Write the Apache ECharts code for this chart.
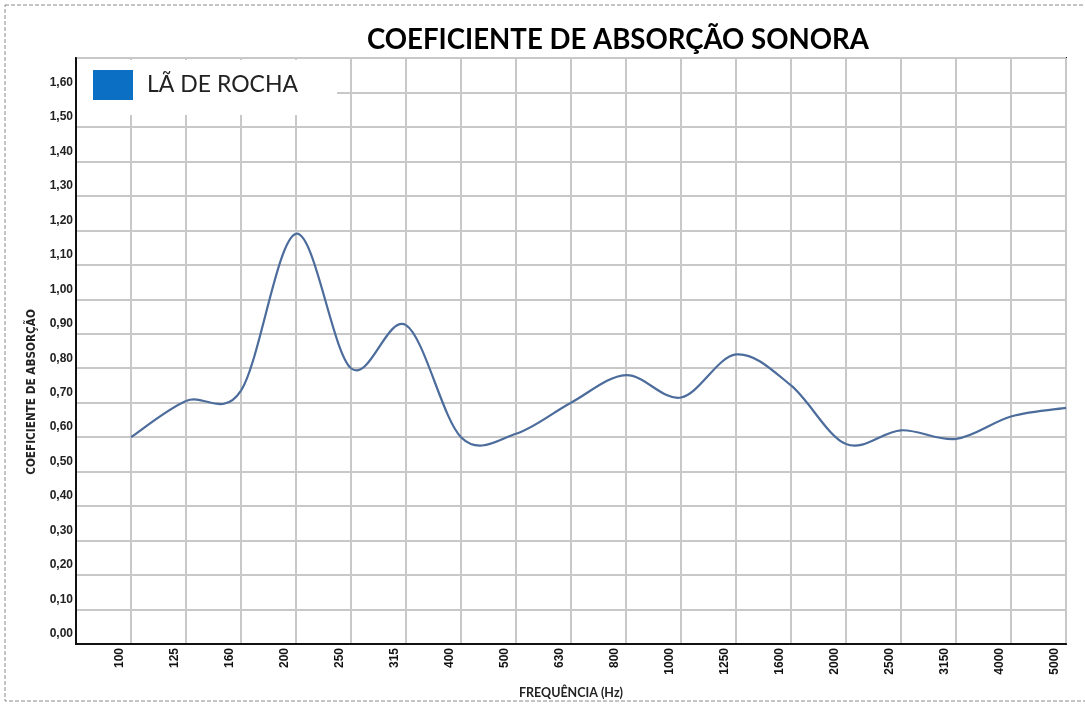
<!DOCTYPE html>
<html>
<head>
<meta charset="utf-8">
<script src="https://cdn.jsdelivr.net/npm/echarts@6/dist/echarts.min.js"></script>
<style>
html,body{margin:0;padding:0;background:#fff;}
#chart{width:1085px;height:704px;}
</style>
</head>
<body>
<div id="chart"></div>
<script>
const titleText = 'COEFICIENTE DE ABSORÇÃO SONORA';
const seriesName = 'LÃ DE ROCHA';
const xAxisTitle = 'FREQUÊNCIA (Hz)';
const yAxisTitle = 'COEFICIENTE DE ABSORÇÃO';
const frequencies = ['100','125','160','200','250','315','400','500','630','800','1000','1250','1600','2000','2500','3150','4000','5000'];
const absorption = [0.60, 0.705, 0.735, 1.19, 0.80, 0.925, 0.60, 0.61, 0.70, 0.78, 0.715, 0.84, 0.75, 0.58, 0.62, 0.595, 0.66, 0.685];
const yTickMax = 1.6;

const chart = echarts.init(document.getElementById('chart'), null, {renderer: 'canvas'});
const lineData = absorption.map((v, i) => [i, v]);
const LINE_COLOR = '#4C6C9C';

// Smoothed line (spreadsheet-style cardinal spline) drawn through the library's own coordinate system
function renderSmoothSegment(params, api) {
  const i = params.dataIndex;
  const n = absorption.length;
  if (i >= n - 1) return null;
  const P = k => {
    const j = Math.min(Math.max(k, 0), n - 1);
    return api.coord([j, absorption[j]]);
  };
  const p0 = P(i - 1), p1 = P(i), p2 = P(i + 1), p3 = P(i + 2);
  return {
    type: 'bezierCurve',
    shape: {
      x1: p1[0], y1: p1[1], x2: p2[0], y2: p2[1],
      cpx1: p1[0] + (p2[0] - p0[0]) / 6, cpy1: p1[1] + (p2[1] - p0[1]) / 6,
      cpx2: p2[0] - (p3[0] - p1[0]) / 6, cpy2: p2[1] - (p3[1] - p1[1]) / 6
    },
    style: {fill: null, stroke: LINE_COLOR, lineWidth: 2.2}
  };
}

const option = {
  backgroundColor: '#fff',
  animation: false,
  title: {
    text: titleText,
    left: 362,
    top: 21,
    textStyle: {fontFamily: 'Lato, "Open Sans", sans-serif', fontWeight: 'bold', fontSize: 27.6, color: '#000'}
  },
  graphic: [{
    type: 'rect',
    shape: {x: 5, y: 5, width: 1090, height: 696},
    style: {fill: 'none', stroke: '#8a8a8a', lineWidth: 1, lineDash: [4, 2]},
    silent: true
  }, {
    type: 'text',
    x: 32, y: 392,
    rotation: Math.PI / 2,
    style: {
      text: yAxisTitle,
      textAlign: 'center', textVerticalAlign: 'middle',
      font: 'bold 11.7px "Liberation Sans Narrow", "DejaVu Sans Condensed", sans-serif',
      fill: '#222'
    },
    silent: true
  }],
  legend: {
    left: 77,
    top: 60,
    backgroundColor: '#fff',
    padding: [10, 39, 15, 16],
    itemWidth: 40,
    itemHeight: 30,
    data: [{name: seriesName, icon: 'rect', itemStyle: {color: '#0B6FC4'}}],
    textStyle: {fontFamily: 'Lato, "Open Sans", sans-serif', fontSize: 23, color: '#222', padding: [0, 0, 0, 9]}
  },
  grid: {
    left: 76, right: 19, top: 58, bottom: 58,
    show: true, borderColor: '#111', borderWidth: 2, backgroundColor: '#fff'
  },
  xAxis: {
    type: 'value',
    min: -1, max: frequencies.length - 1, interval: 1,
    axisLine: {show: true, onZero: false, lineStyle: {color: '#111', width: 2}},
    axisTick: {show: false},
    splitLine: {show: true, lineStyle: {color: '#c8c8c8', width: 2}},
    axisLabel: {
      formatter: v => (v >= 0 && v < frequencies.length) ? frequencies[v] : '',
      rotate: 90, margin: 4,
      fontFamily: '"Liberation Sans", Arial, sans-serif', fontWeight: 'bold', fontSize: 12, color: '#111',
      verticalAlign: 'bottom', lineHeight: 22
    },
    name: xAxisTitle,
    nameLocation: 'middle',
    nameGap: 42,
    nameTextStyle: {fontFamily: 'Lato, "Open Sans", sans-serif', fontWeight: 'bold', fontSize: 12.5, color: '#222'}
  },
  yAxis: {
    type: 'value',
    min: 0, max: 1.7, interval: 0.1,
    axisLine: {show: true, onZero: false, lineStyle: {color: '#111', width: 2}},
    axisTick: {show: false},
    splitLine: {show: true, lineStyle: {color: '#c8c8c8', width: 2}},
    axisLabel: {
      formatter: v => v > yTickMax + 0.05 ? '' : v.toFixed(2).replace('.', ','),
      margin: 3,
      fontFamily: '"Liberation Sans", Arial, sans-serif', fontWeight: 'bold', fontSize: 12, color: '#222',
      verticalAlign: 'bottom', lineHeight: 20
    }
  },
  series: [{
    name: seriesName,
    type: 'custom',
    data: lineData,
    encode: {x: 0, y: 1},
    renderItem: renderSmoothSegment,
    itemStyle: {color: '#0B6FC4'},
    z: 3
  }]
};
chart.setOption(option);
</script>
</body>
</html>
